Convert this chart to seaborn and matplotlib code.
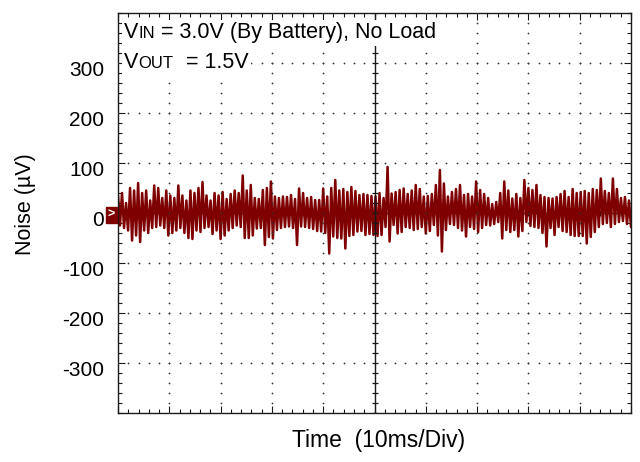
import numpy as np
import matplotlib
matplotlib.use("Agg")
import matplotlib.pyplot as plt
import matplotlib.transforms as mtransforms
from matplotlib.patches import Rectangle
from matplotlib.ticker import MultipleLocator, NullFormatter
from matplotlib.offsetbox import TextArea, HPacker, AnchoredOffsetbox
import seaborn as sns
import pandas as pd

sns.set_theme(style="white")
plt.rcParams['font.family'] = ['Liberation Sans', 'DejaVu Sans']

# ---- data (µV), positive / negative peaks per ~0.78 ms column
upper = [35, 40, 20, 50, 45, 60, 40, 45, 25, 55, 50, 30, 45, 35, 30, 55, 35, 25, 45, 40, 50, 62, 35, 25, 40, 35, 42, 28, 38, 45, 40, 75, 45,
         56, 30, 28, 46, 50, 63, 33, 30, 33, 32, 36, 28, 49, 40, 30, 32, 26, 26, 49, 33, 50, 66, 45, 48, 42, 52, 44, 36, 38, 36, 34, 33,
         40, 30, 92, 39, 42, 46, 49, 38, 45, 56, 48, 33, 34, 38, 56, 86, 59, 33, 42, 48, 56, 36, 38, 33, 63, 46, 38, 30, 18, 22, 40, 63,
         45, 29, 38, 30, 66, 50, 46, 56, 36, 32, 30, 29, 32, 38, 44, 32, 48, 40, 42, 44, 40, 48, 46, 69, 44, 40, 69, 48, 30, 32, 25]
lower = [-25, -30, -35, -55, -45, -58, -35, -40, -30, -28, -25, -30, -45, -40, -35, -30, -40, -50, -52, -35, -38, -30, -28, -42, -35, -52, -45, -35, -30, -25, -28, -50, -50,
         -45, -31, -30, -64, -48, -51, -34, -30, -28, -27, -30, -64, -27, -28, -30, -32, -36, -37, -40, -81, -47, -50, -51, -71, -46, -44, -37, -36, -44, -42, -44, -46,
         -44, -28, -57, -24, -41, -38, -28, -30, -34, -32, -28, -41, -36, -24, -45, -77, -34, -22, -24, -30, -35, -47, -28, -32, -38, -30, -24, -25, -22, -18, -51, -34,
         -38, -34, -47, -36, -18, -26, -28, -30, -40, -67, -30, -44, -28, -36, -38, -44, -46, -46, -46, -61, -48, -38, -28, -22, -20, -28, -22, -18, -16, -22, -28]
y_ticks = [-300, -200, -100, 0, 100, 200, 300]
x_label = "Time  (10ms/Div)"
y_label = "Noise (µV)"
line1 = ["V", "IN", " = 3.0V (By Battery), No Load"]
line2 = ["V", "OUT", "  = 1.5V"]

SIG = "#7f0000"
FRAME = "#1a1a1a"

n = len(upper)
vals = np.column_stack([upper, lower]).ravel()
t = np.linspace(0, 100, 2 * n)
df = pd.DataFrame({"t": t, "v": vals})

fig = plt.figure(figsize=(6.4, 4.62), dpi=100)
ax = fig.add_axes([118 / 640, 1 - 413 / 462, 513 / 640, 400 / 462])

# horizontal centre line (under the trace)
ax.axhline(0, color=FRAME, lw=1.0, zorder=1)

sns.lineplot(data=df, x="t", y="v", color=SIG, lw=1.8, ax=ax, zorder=2,
             estimator=None, sort=False)

ax.set_xlim(0, 100)
ax.set_ylim(-400, 400)

# graticule dots
for xg in range(10, 100, 10):
    if xg == 50:
        continue
    yy = np.arange(-400, 401, 20)
    ax.scatter(np.full(len(yy), xg), yy, s=1.6, color="#333333", lw=0, zorder=3)
for yg in y_ticks:
    if yg == 0:
        continue
    xx = np.arange(0, 101, 2)
    ax.scatter(xx, np.full(len(xx), yg), s=1.6, color="#333333", lw=0, zorder=3)

# vertical centre line with small ticks
ax.axvline(50, color=FRAME, lw=1.0, zorder=4)
yy = np.arange(-400, 401, 20)
ax.plot(np.full(len(yy), 50), yy, ls="none", marker="_", ms=5, mew=0.9, color=FRAME, zorder=4)
xx = np.arange(0, 101, 2)
ax.plot(xx, np.zeros(len(xx)), ls="none", marker="|", ms=4, mew=0.9, color=FRAME, zorder=1)

# ticks
ax.set_xticks(np.arange(0, 101, 10))
ax.xaxis.set_minor_locator(MultipleLocator(2))
ax.xaxis.set_major_formatter(NullFormatter())
ax.set_yticks(y_ticks)
ax.set_yticklabels([str(v) for v in y_ticks])
ax.yaxis.set_minor_locator(MultipleLocator(20))
ax.tick_params(which="both", direction="in", top=True, right=True, bottom=True, left=True,
               color=FRAME, width=0.8)
ax.tick_params(which="major", length=5)
ax.tick_params(which="minor", length=2.6)
ax.tick_params(axis="y", labelsize=15, pad=10, labelcolor="black")
offset = mtransforms.ScaledTranslation(0, -0.05, fig.dpi_scale_trans)
for lab in ax.get_yticklabels():
    lab.set_transform(lab.get_transform() + offset)

for sp in ax.spines.values():
    sp.set_color(FRAME)
    sp.set_linewidth(1.0)
    sp.set_visible(True)

# channel marker at left
bt = mtransforms.blended_transform_factory(ax.transAxes, ax.transData)
ax.add_patch(Rectangle((-12 / 513, -19), 11 / 513, 32, transform=bt, color=SIG,
                       clip_on=False, zorder=5))
ax.text(-6.5 / 513, -3, ">", transform=bt, color="white", fontsize=9, fontweight="bold",
        ha="center", va="center", clip_on=False, zorder=6)

# labels
ax.set_xlabel(x_label, fontsize=16.5, color="black")
ax.xaxis.set_label_coords(0.508, -(440 - 413) / 400)
ax.xaxis.label.set_verticalalignment("center")
ax.set_ylabel(y_label, fontsize=15.5, color="black")
ax.yaxis.set_label_coords(-(118 - 26) / 513, (413 - 204) / 400)
ax.yaxis.label.set_verticalalignment("center")


def make_line(parts, y_anchor):
    big = dict(fontsize=15.5, color="black")
    small = dict(fontsize=12, color="black")
    boxes = [TextArea(parts[0], textprops=big), TextArea(parts[1], textprops=small),
             TextArea(parts[2], textprops=big)]
    pack = HPacker(children=boxes, align="baseline", pad=0, sep=0)
    anc = AnchoredOffsetbox(loc="upper left", child=pack, pad=0.15, borderpad=0,
                            frameon=True, bbox_to_anchor=(4 / 513, y_anchor),
                            bbox_transform=ax.transAxes)
    anc.patch.set_facecolor("white")
    anc.patch.set_edgecolor("none")
    anc.set_zorder(7)
    ax.add_artist(anc)


make_line(line1, 1 - 7 / 400)
make_line(line2, 1 - 37 / 400)

fig.savefig("out.png", dpi=100)
